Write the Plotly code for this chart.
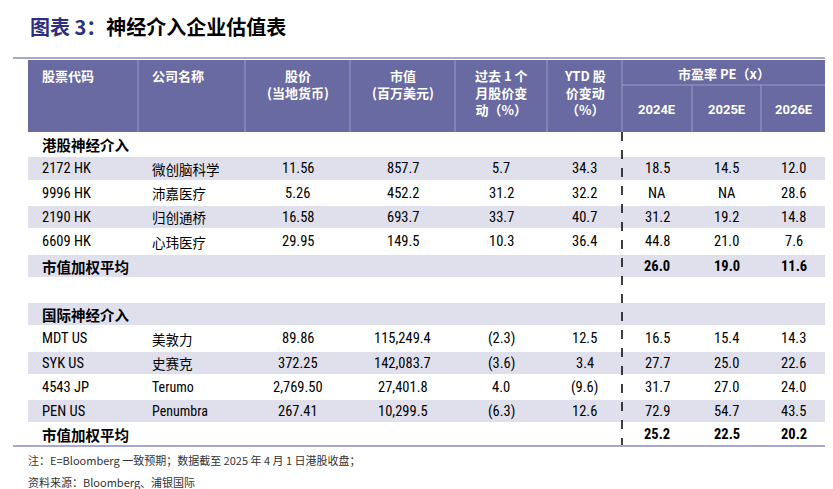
import plotly.graph_objects as go

codes = ["港股神经介入", "2172 HK", "9996 HK", "2190 HK", "6609 HK", "市值加权平均", "",
         "国际神经介入", "MDT US", "SYK US", "4543 JP", "PEN US", "市值加权平均"]
names = ["", "微创脑科学", "沛嘉医疗", "归创通桥", "心玮医疗", "", "", "", "美敦力", "史赛克", "Terumo", "Penumbra", ""]
price = ["", "11.56", "5.26", "16.58", "29.95", "", "", "", "89.86", "372.25", "2,769.50", "267.41", ""]
mcap = ["", "857.7", "452.2", "693.7", "149.5", "", "", "", "115,249.4", "142,083.7", "27,401.8", "10,299.5", ""]
chg1m = ["", "5.7", "31.2", "33.7", "10.3", "", "", "", "(2.3)", "(3.6)", "4.0", "(6.3)", ""]
ytd = ["", "34.3", "32.2", "40.7", "36.4", "", "", "", "12.5", "3.4", "(9.6)", "12.6", ""]
pe24 = ["", "18.5", "NA", "31.2", "44.8", "26.0", "", "", "16.5", "27.7", "31.7", "72.9", "25.2"]
pe25 = ["", "14.5", "NA", "19.2", "21.0", "19.0", "", "", "15.4", "25.0", "27.0", "54.7", "22.5"]
pe26 = ["", "12.0", "28.6", "14.8", "7.6", "11.6", "", "", "14.3", "22.6", "24.0", "43.5", "20.2"]
headers = ["股票代码", "公司名称", "股价<br>(当地货币)", "市值<br>(百万美元)", "过去 1 个<br>月股价变<br>动（%）", "YTD 股<br>价变动<br>（%）"]
pe_head = "市盈率 PE（x）"
years = ["2024E", "2025E", "2026E"]
shaded = [False, True, False, True, False, True, False, True, False, True, False, True, False]
bold_rows = [0, 5, 7, 12]

HDR = "#6a6aa2"
SH = "#e0e0ed"
CJK = "Noto Sans CJK SC"
NUM = "Liberation Sans Narrow, Roboto Condensed, Roboto"

xs = [20, 130, 237, 342, 447, 539, 614, 684, 753, 818]
ys = [125, 148, 173, 197, 221, 246, 270, 294, 318, 343, 367, 391, 415, 438]
H0, H1 = 52, 124

shapes = []
ann = []
def rect(x0, y0, x1, y1, c):
    shapes.append(dict(type="rect", x0=x0, x1=x1, y0=y0, y1=y1, fillcolor=c, line=dict(width=0), layer="below"))
def line(x0, y0, x1, y1, c, w=1, dash="solid"):
    shapes.append(dict(type="line", x0=x0, x1=x1, y0=y0, y1=y1, line=dict(color=c, width=w, dash=dash)))
def txt(x, y, t, size=13, color="black", font=CJK, xanchor="center", bold=False, yanchor="middle"):
    if bold:
        t = "<b>" + t + "</b>"
    ann.append(dict(x=x, y=y, text=t, showarrow=False, xanchor=xanchor, yanchor=yanchor,
                    font=dict(size=size, color=color, family=font), align="center"))

# title
txt(20, 18, "<b><span style='color:#2e2e7e'>图表 3：</span>神经介入企业估值表</b>", size=20, xanchor="left")
line(5, 50, 818, 50, "#a8a8cc", 2)
# header
rect(20, H0, 818, H1, HDR)
for x in xs[1:9]:
    y0 = H0 if x <= 614 else 77
    line(x, y0, x, H1, "#9a9ac4", 1)
line(614, 77, 818, 77, "#9a9ac4", 1)
for i, h in enumerate(headers):
    if i < 2:
        txt(xs[i] + 12, 67, h, 13, "white", xanchor="left", bold=True)
    else:
        txt((xs[i] + xs[i+1]) / 2, 56, h, 13, "white", bold=True, yanchor="top")
txt((614 + 818) / 2, 65, pe_head, 13, "white", bold=True)
for j, yv in enumerate(years):
    txt((xs[6 + j] + xs[7 + j]) / 2, 101, yv, 13, "white", font="Roboto", bold=True)

cols = [price, mcap, chg1m, ytd, pe24, pe25, pe26]
for r in range(len(codes)):
    y0, y1 = ys[r], ys[r + 1]
    yc = (y0 + y1) / 2
    if shaded[r]:
        rect(20, y0 + 1, 818, y1 - 1, SH)
    b = r in bold_rows
    if codes[r]:
        isnum = codes[r][0].isascii()
        txt(32, yc, codes[r], 14.5, font=NUM if isnum else CJK, xanchor="left", bold=b)
    if names[r]:
        isnum = names[r][0].isascii()
        txt(xs[1] + 12, yc, names[r], 14 if isnum else 13.5, font=NUM if isnum else CJK, xanchor="left")
    for k, col in enumerate(cols):
        if col[r]:
            txt((xs[2 + k] + xs[3 + k]) / 2, yc, col[r], 14.5, font=NUM, bold=b)

line(614, 124, 614, 438, "black", 1.5, "dash")
line(818, 124, 818, 438, "black", 1.5, "dash")
line(5, 438, 818, 438, "#a8a8cc", 2)

txt(18, 452, "注：E=Bloomberg 一致预期；数据截至 2025 年 4 月 1 日港股收盘；", 11, "#333", xanchor="left")
txt(18, 474, "资料来源：Bloomberg、浦银国际", 11, "#333", xanchor="left")

fig = go.Figure()
fig.update_layout(width=833, height=489, margin=dict(l=0, r=0, t=0, b=0),
                  paper_bgcolor="white", plot_bgcolor="white", shapes=shapes, annotations=ann,
                  xaxis=dict(range=[0, 833], visible=False, fixedrange=True),
                  yaxis=dict(range=[489, 0], visible=False, fixedrange=True))
fig.write_html("out.html")
